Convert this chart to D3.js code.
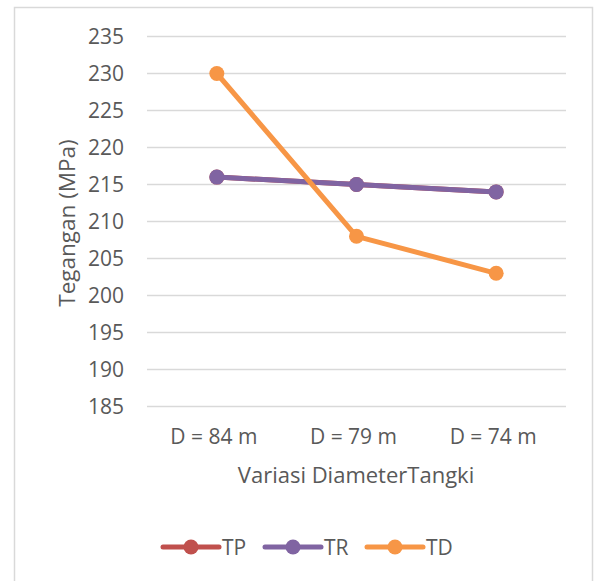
<!DOCTYPE html>
<html><head><meta charset="utf-8">
<script src="https://cdn.jsdelivr.net/npm/d3@7"></script>
<style>body{margin:0;background:#fff}svg{display:block}text{font-family:"Open Sans",sans-serif;fill:#595959}</style>
</head><body><svg id="c" width="596" height="581"></svg>
<script>
const categories = ["D = 84 m", "D = 79 m", "D = 74 m"];
const seriesNames = ["TP", "TR", "TD"];
const TP = [216, 215, 214];
const TR = [216, 215, 214];
const TD = [230, 208, 203];
const yTicks = [185, 190, 195, 200, 205, 210, 215, 220, 225, 230, 235];
const colors = ["#C0504D", "#8064A2", "#F79646"];
const series = [TP, TR, TD];

const svg = d3.select("#c");
svg.append("rect").attr("x",14.5).attr("y",7.5).attr("width",578).attr("height",590)
  .attr("fill","#fff").attr("stroke","#d9d9d9").attr("stroke-width",1.5);

const x = d3.scaleBand().domain(categories).range([147, 566]);
const y = d3.scaleLinear().domain([185, 235]).range([406.5, 36.5]);

const g = svg.append("g");
g.selectAll("line.grid").data(yTicks).join("line")
  .attr("x1",147).attr("x2",566).attr("y1",d=>y(d)).attr("y2",d=>y(d))
  .attr("stroke","#d9d9d9").attr("stroke-width",1.5);

g.selectAll("text.yt").data(yTicks).join("text")
  .attr("x",124).attr("y",d=>y(d)).attr("dy","0.36em").attr("text-anchor","end")
  .attr("font-size",21).text(d=>d);

g.selectAll("text.xt").data(categories).join("text")
  .attr("x",d=>x(d)+x.bandwidth()/2 - 3).attr("y",444).attr("text-anchor","middle")
  .attr("font-size",21).text(d=>d);

svg.append("text").attr("x",356).attr("y",483).attr("text-anchor","middle")
  .attr("font-size",22).text("Variasi DiameterTangki");
svg.append("text").attr("transform","translate(75,223) rotate(-90)").attr("text-anchor","middle")
  .attr("font-size",22.5).text("Tegangan (MPa)");

const line = d3.line().x((d,i)=>x(categories[i])+x.bandwidth()/2).y(d=>y(d));
series.forEach((s,k)=>{
  g.append("path").attr("d",line(s)).attr("fill","none").attr("stroke",colors[k])
    .attr("stroke-width",5).attr("stroke-linecap","round").attr("stroke-linejoin","round");
  g.selectAll(null).data(s).join("circle")
    .attr("cx",(d,i)=>x(categories[i])+x.bandwidth()/2).attr("cy",d=>y(d)).attr("r",7.5)
    .attr("fill",colors[k]);
});

const leg = svg.append("g");
const legX = [163, 265, 367];
seriesNames.forEach((n,k)=>{
  const lx = legX[k];
  leg.append("line").attr("x1",lx).attr("x2",lx+56).attr("y1",547).attr("y2",547)
    .attr("stroke",colors[k]).attr("stroke-width",5).attr("stroke-linecap","round");
  leg.append("circle").attr("cx",lx+28).attr("cy",547).attr("r",7.5).attr("fill",colors[k]);
  leg.append("text").attr("x",lx+59).attr("y",547).attr("dy","0.36em").attr("font-size",21).text(n);
});
</script></body></html>
